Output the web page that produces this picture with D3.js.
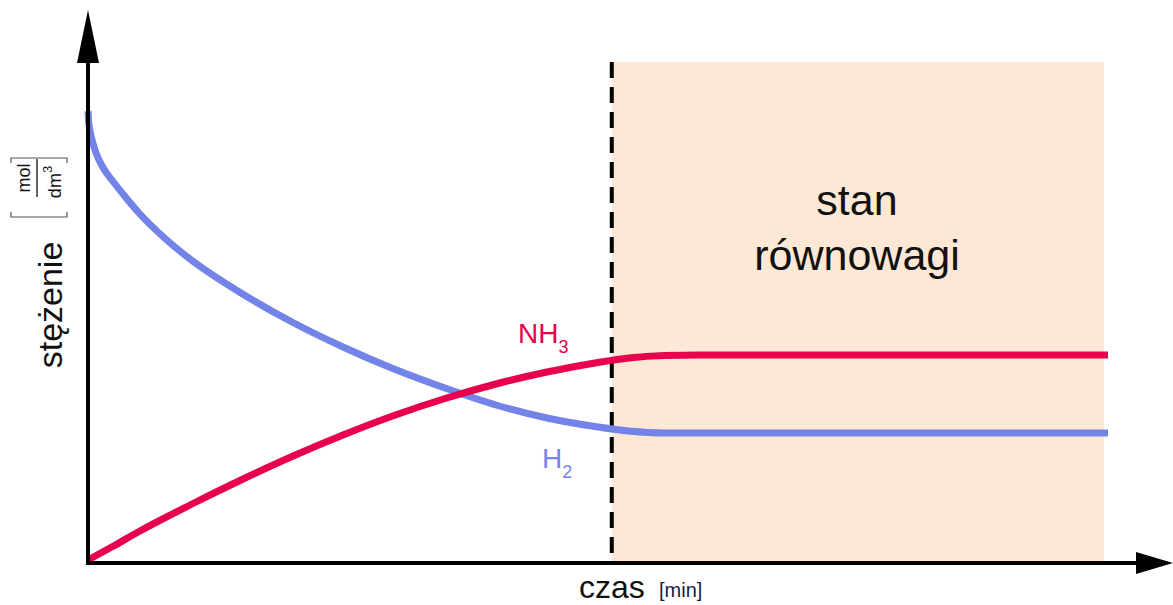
<!DOCTYPE html>
<html>
<head>
<meta charset="utf-8">
<script src="https://cdn.jsdelivr.net/npm/d3@7"></script>
<style>
  body { margin: 0; background: #fff; }
  text { font-family: 'Liberation Sans', Arial, sans-serif; }
</style>
</head>
<body>
<script>
// time (arbitrary units) and concentrations
const timeH2 = [0, 0.01, 0.03, 0.06, 0.15, 0.3, 0.5, 0.75, 1, 1.5, 2, 3, 4, 5, 6, 7, 8, 9, 10, 10.6, 11.3, 20]
const valuesH2 = [9.04, 8.86, 8.7, 8.54, 8.22, 7.9, 7.62, 7.3, 7.0, 6.5, 6.08, 5.4, 4.82, 4.32, 3.88, 3.5, 3.16, 2.9, 2.72, 2.64, 2.6, 2.6]
const timeNH3 = [0, 0.5, 1, 2, 3, 4, 5, 6, 7, 8, 9, 10, 10.6, 11.3, 12, 20]
const valuesNH3 = [0.06, 0.34, 0.63, 1.16, 1.66, 2.13, 2.56, 2.95, 3.29, 3.58, 3.82, 4.01, 4.1, 4.15, 4.16, 4.16]
const equilibriumStart = 10.27
const equilibriumEnd = 19.92
const xLabel = 'czas'
const xUnit = '[min]'
const yLabel = 'stężenie'
const regionLabel = ['stan', 'równowagi']

const width = 1173, height = 605

const x = d3.scaleLinear().domain([0, 20]).range([88, 1108])
const y = d3.scaleLinear().domain([0, 10]).range([563, 63])

const svg = d3.select('body').append('svg')
    .attr('width', width)
    .attr('height', height)

// equilibrium area
svg.append('rect')
    .attr('x', x(equilibriumStart))
    .attr('y', 62)
    .attr('width', x(equilibriumEnd) - x(equilibriumStart))
    .attr('height', y(0) - 62)
    .attr('fill', '#fde8d5')

svg.append('text')
    .attr('x', 857).attr('y', 215)
    .attr('text-anchor', 'middle')
    .attr('font-size', 43)
    .attr('fill', '#111')
    .text(regionLabel[0])
svg.append('text')
    .attr('x', 857).attr('y', 270)
    .attr('text-anchor', 'middle')
    .attr('font-size', 43)
    .attr('fill', '#111')
    .text(regionLabel[1])

// dashed boundary
svg.append('line')
    .attr('x1', x(equilibriumStart)).attr('x2', x(equilibriumStart))
    .attr('y1', 62).attr('y2', y(0))
    .attr('stroke', '#000')
    .attr('stroke-width', 4)
    .attr('stroke-dasharray', '16,9')

// curves
const line = d3.line()
    .x(d => x(d[0]))
    .y(d => y(d[1]))
    .curve(d3.curveMonotoneX)

svg.append('path')
    .datum(d3.zip(timeH2, valuesH2))
    .attr('d', line)
    .attr('fill', 'none')
    .attr('stroke', '#7383e8')
    .attr('stroke-width', 7)

svg.append('path')
    .datum(d3.zip(timeNH3, valuesNH3))
    .attr('d', line)
    .attr('fill', 'none')
    .attr('stroke', '#e8004f')
    .attr('stroke-width', 7)

// series labels
const nh3 = svg.append('text')
    .attr('x', 518).attr('y', 343)
    .attr('font-size', 28)
    .attr('fill', '#e8004f')
nh3.append('tspan').text('NH')
nh3.append('tspan').attr('font-size', 18).attr('dy', 10).text('3')

const h2 = svg.append('text')
    .attr('x', 542).attr('y', 468)
    .attr('font-size', 28)
    .attr('fill', '#7383e8')
h2.append('tspan').text('H')
h2.append('tspan').attr('font-size', 18).attr('dy', 10).text('2')

// axes with arrows
svg.append('line')
    .attr('x1', x(0)).attr('x2', x(0))
    .attr('y1', y(0) + 2).attr('y2', 50)
    .attr('stroke', '#000').attr('stroke-width', 4)
svg.append('path')
    .attr('d', 'M' + x(0) + ',10 L' + (x(0) - 11) + ',63 L' + (x(0) + 11) + ',63 Z')
    .attr('fill', '#000')

svg.append('line')
    .attr('x1', x(0) - 2).attr('x2', 1140)
    .attr('y1', y(0)).attr('y2', y(0))
    .attr('stroke', '#000').attr('stroke-width', 4)
svg.append('path')
    .attr('d', 'M1173,' + y(0) + ' L1136,' + (y(0) - 11) + ' L1136,' + (y(0) + 11) + ' Z')
    .attr('fill', '#000')

// x label
svg.append('text')
    .attr('x', 579).attr('y', 598)
    .attr('font-size', 32)
    .attr('fill', '#111')
    .text(xLabel)
svg.append('text')
    .attr('x', 659).attr('y', 597)
    .attr('font-size', 20)
    .attr('fill', '#1a1a40')
    .text(xUnit)

// y label, rotated
const yl = svg.append('g').attr('transform', 'translate(62,0) rotate(-90)')
yl.append('text')
    .attr('x', -305).attr('y', 0)
    .attr('text-anchor', 'middle')
    .attr('font-size', 34)
    .attr('fill', '#111')
    .text(yLabel)

// unit: [ mol / dm3 ]
const unit = svg.append('g').attr('transform', 'translate(0,0) rotate(-90)')
unit.append('text')
    .attr('x', -178).attr('y', 30)
    .attr('text-anchor', 'middle')
    .attr('font-size', 18)
    .attr('fill', '#111')
    .text('mol')
const dm = unit.append('text')
    .attr('x', -182).attr('y', 61)
    .attr('text-anchor', 'middle')
    .attr('font-size', 18)
    .attr('fill', '#111')
dm.append('tspan').text('dm')
dm.append('tspan').attr('font-size', 13).attr('dy', -9).text('3')
unit.append('line')
    .attr('x1', -197).attr('x2', -159)
    .attr('y1', 37).attr('y2', 37)
    .attr('stroke', '#111').attr('stroke-width', 1.3)
unit.append('path')
    .attr('d', 'M-212,11 L-217,11 L-217,67 L-212,67')
    .attr('fill', 'none').attr('stroke', '#555').attr('stroke-width', 1.2)
unit.append('path')
    .attr('d', 'M-163,11 L-158,11 L-158,67 L-163,67')
    .attr('fill', 'none').attr('stroke', '#555').attr('stroke-width', 1.2)
</script>
</body>
</html>
